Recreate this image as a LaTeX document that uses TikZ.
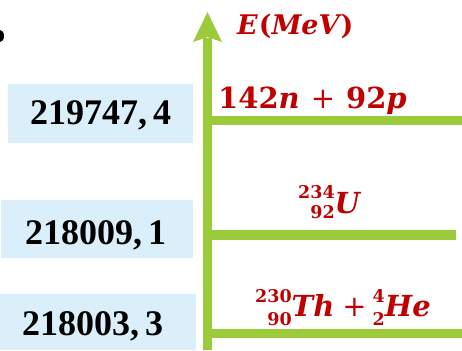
\documentclass[tikz,border=0pt]{standalone}
\usepackage{fontspec}
\setmainfont{Liberation Serif}
\newfontfamily\redfont{DejaVu Serif}
\definecolor{axgreen}{RGB}{155,203,59}
\definecolor{lblred}{RGB}{192,0,0}
\definecolor{boxblue}{RGB}{218,239,250}
\newcommand\nucpre[4]{{\setbox0\hbox{\fontsize{17.5}{17.5}\selectfont\bfseries\upshape #3}%
\setbox2\hbox{\fontsize{17.5}{17.5}\selectfont\bfseries\upshape #4}%
\dimen0=\ifdim\wd0>\wd2 \wd0\else\wd2\fi
\makebox[\dimen0][r]{\raisebox{#1}{\box0}}\llap{\raisebox{-#2}{\box2}}}}
\newcommand\thinplus{{\mdseries\upshape +}}
\tikzset{
  valtext/.style={anchor=base west, inner sep=0pt, font=\fontsize{36}{36}\selectfont\bfseries, text=black},
  redlbl/.style={anchor=base west, inner sep=0pt, text=lblred, font=\redfont\fontsize{29}{29}\selectfont\bfseries},
  valbox/.style={fill=boxblue, draw=none},
  axis/.style={fill=axgreen, draw=none}
}
\begin{document}
\begin{tikzpicture}[x=1pt,y=-1pt]
\useasboundingbox (0,0) rectangle (462,350);
\clip (0,0) rectangle (462,350);
% stray bullet at left edge
\fill[black] (0,36) ellipse (4 and 6);
% value boxes
\fill[valbox] (8,84) rectangle (193,143);
\fill[valbox] (1,200) rectangle (193,258);
\fill[valbox] (0,294) rectangle (196,350);
\node[valtext] (v1) at (30,124) {219747,\,4};
\node[valtext] (v2) at (25,244) {218009,\,1};
\node[valtext] (v3) at (22,335) {218003,\,3};
% energy axis
\fill[axis] (203,38) rectangle (212,350);
\fill[axis] (207.5,12) -- (222,42) -- (207.5,37) -- (193,42) -- cycle;
% levels
\fill[axis] (203,116) rectangle (462,125);
\fill[axis] (203,230) rectangle (456,239.5);
\fill[axis] (203,329) rectangle (462,338);
% labels
\node[redlbl, font=\redfont\fontsize{27}{27}\selectfont\bfseries] (e) at (237,35) {\itshape E\upshape\hspace{1pt}(\itshape MeV\upshape\hspace{1pt})};
\node[redlbl] (l1) at (218,108) {142\textit{n}\hspace{11pt}\thinplus\hspace{11pt}92\textit{p}};
\node[redlbl] (l2) at (298,213) {\nucpre{15pt}{5pt}{234}{92}\textit{U}};
\node[redlbl] (l3) at (255,316) {\nucpre{14pt}{9pt}{230}{90}\textit{Th}\hspace{8pt}\thinplus\hspace{6pt}\nucpre{14pt}{9pt}{4}{2}\textit{He}};
\end{tikzpicture}
\end{document}
